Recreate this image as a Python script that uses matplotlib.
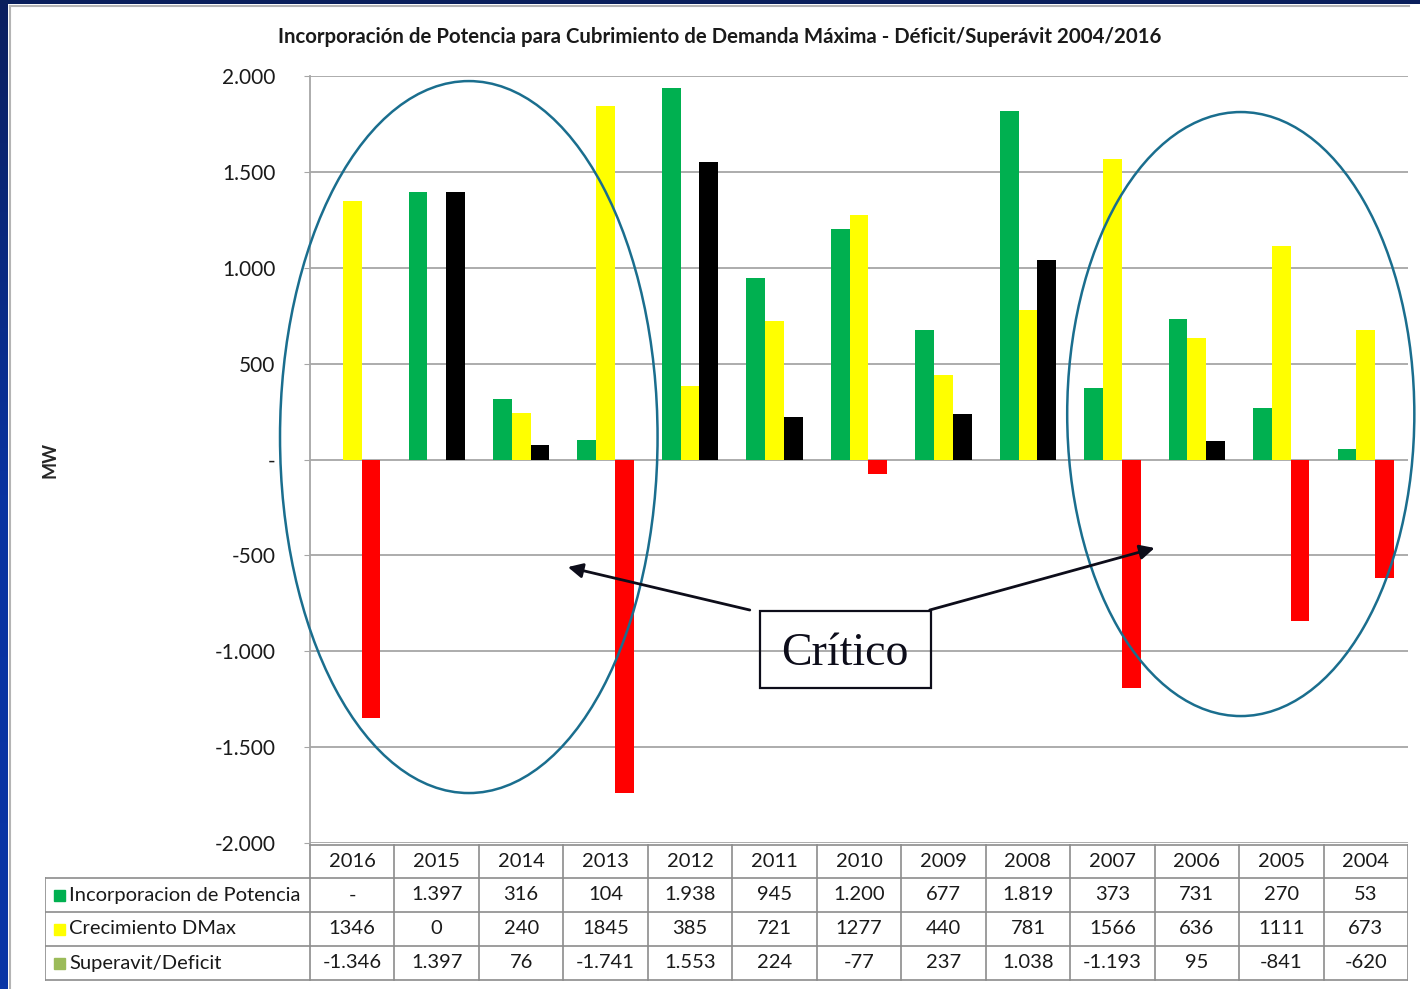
import matplotlib
matplotlib.use('Agg')
import matplotlib.pyplot as plt
import numpy as np
from matplotlib.patches import Ellipse, Rectangle
from matplotlib.lines import Line2D
from matplotlib.colors import LinearSegmentedColormap
from matplotlib.ticker import FuncFormatter

plt.rcParams['font.family'] = ['Lato', 'DejaVu Sans']

years = [2016, 2015, 2014, 2013, 2012, 2011, 2010, 2009, 2008, 2007, 2006, 2005, 2004]
incorporacion = [0, 1397, 316, 104, 1938, 945, 1200, 677, 1819, 373, 731, 270, 53]
crecimiento = [1346, 0, 240, 1845, 385, 721, 1277, 440, 781, 1566, 636, 1111, 673]
superavit = [-1346, 1397, 76, -1741, 1553, 224, -77, 237, 1038, -1193, 95, -841, -620]

series_names = ['Incorporacion de Potencia', 'Crecimiento DMax', 'Superavit/Deficit']
key_colors = ['#00B050', '#FFFF00', '#9BBB59']

title = ('Incorporación de Potencia para Cubrimiento de Demanda Máxima - '
         'Déficit/Superávit 2004/2016')


def miles(v, pos=None):
    # thousands with a dot, zero as a dash
    if v == 0:
        return '-'
    s = f'{abs(int(v)):,}'.replace(',', '.')
    return ('-' if v < 0 else '') + s


W, H = 1420, 989
fig = plt.figure(figsize=(W / 100, H / 100), dpi=100)
fig.patch.set_facecolor('white')

# slide frame: blue strip on the left, navy strip on top
strip = fig.add_axes([0, 0, 8 / W, 1])
grad = np.linspace(0, 1, 256).reshape(-1, 1)
cm = LinearSegmentedColormap.from_list('frame', ['#0A36A6', '#0833A0', '#0B1E5E'])
strip.imshow(grad, aspect='auto', cmap=cm, origin='lower')
strip.axis('off')
top = fig.add_axes([0, 1 - 4 / H, 1, 4 / H])
top.set_facecolor('#0A1F5C')
top.set_xticks([]); top.set_yticks([])
for s in top.spines.values():
    s.set_visible(False)
fig.add_artist(Line2D([10 / W, 10 / W], [0, 1 - 5.5 / H], color='#B4B4B4', lw=1.5,
                      transform=fig.transFigure))
fig.add_artist(Line2D([10 / W, 1409 / W], [1 - 5.5 / H, 1 - 5.5 / H], color='#B4B4B4',
                      lw=1.5, transform=fig.transFigure))

ax = fig.add_axes([310 / W, 1 - 843 / H, 1098 / W, 767 / H])
x = np.arange(len(years))
bw = 0.222
ax.bar(x - bw, incorporacion, bw, color='#00B050', zorder=2)
ax.bar(x, crecimiento, bw, color='#FFFF00', zorder=2)
sup_colors = ['#000000' if v >= 0 else '#FF0000' for v in superavit]
ax.bar(x + bw, superavit, bw, color=sup_colors, zorder=2)

ax.set_xlim(-0.5, len(years) - 0.5)
ax.set_ylim(-2000, 2000)
ax.set_yticks(range(-2000, 2001, 500))
ax.yaxis.set_major_formatter(FuncFormatter(miles))
ax.set_xticks([])
ax.grid(axis='y', color='#A6A6A6', lw=1.3, zorder=0)
ax.set_axisbelow(True)
for side in ['top', 'right', 'bottom']:
    ax.spines[side].set_visible(False)
ax.spines['left'].set_color('#A6A6A6')
ax.spines['left'].set_linewidth(1.3)
ax.tick_params(axis='y', length=4, color='#A6A6A6', pad=21, labelsize=15,
               labelcolor='#1A1A1A')

fig.text(720 / W, 1 - 37 / H, title, ha='center', va='center', fontsize=14.7,
         fontweight='bold', color='#1A1A1A')
fig.text(50 / W, 1 - 460 / H, 'MW', rotation=90, ha='center', va='center',
         fontsize=13, fontweight='bold', color='#262626')

# circled critical zones
ax.add_patch(Ellipse((1.38, 117), 4.47, 3713, fill=False, ec='#1A6E8E', lw=1.8,
                     clip_on=False, zorder=4))
ax.add_patch(Ellipse((10.52, 237), 4.11, 3150, fill=False, ec='#1A6E8E', lw=1.8,
                     clip_on=False, zorder=4))

ax.add_patch(Rectangle((4.825, -1192), 2.024, 402, fill=False, ec='#0D0D1A', lw=1.6,
                       zorder=5))
ax.text(5.837, -1072, 'Crítico', fontsize=33, family='Liberation Serif',
        ha='center', va='baseline', color='#0D0D1A', zorder=5)
arrow = dict(arrowstyle='-|>', color='#0D0D1A', lw=2, mutation_scale=22,
             shrinkA=0, shrinkB=0)
ax.annotate('', xy=(2.553, -561), xytext=(4.707, -785), arrowprops=arrow, zorder=5)
ax.annotate('', xy=(9.5, -461.5), xytext=(6.837, -785), arrowprops=arrow, zorder=5)

# data table under the chart, columns aligned with the bar groups
row_text = [
    [miles(v) for v in incorporacion],
    [str(v) for v in crecimiento],
    [miles(v) for v in superavit],
]
col_w = 1098 / len(years)
lab_left = -0.5 - 265 / col_w
tax = fig.add_axes([45 / W, 1 - 981 / H, 1363 / W, 138 / H])
tax.set_xlim(lab_left, len(years) - 0.5)
tax.set_ylim(981, 843)
tax.axis('off')
edge = dict(color='#8C8C8C', lw=1.2)
row_y = [845, 878, 912, 946, 980]
tax.plot([-0.5, len(years) - 0.5], [row_y[0]] * 2, **edge)
for yy in row_y[1:]:
    tax.plot([lab_left, len(years) - 0.5], [yy, yy], **edge)
tax.plot([lab_left, lab_left], [row_y[1], row_y[-1]], **edge)
for k in range(len(years) + 1):
    tax.plot([k - 0.5, k - 0.5], [row_y[0], row_y[-1]], **edge)

cell_font = dict(fontsize=14.5, color='#1A1A1A', va='center')
hy = (row_y[0] + row_y[1]) / 2
for xi, yr in zip(x, years):
    tax.text(xi, hy, str(yr), ha='center', **cell_font)
for i, (name, vals, kc) in enumerate(zip(series_names, row_text, key_colors)):
    cy = (row_y[i + 1] + row_y[i + 2]) / 2
    tax.add_patch(Rectangle((lab_left + 9 / col_w, cy - 5.5), 11 / col_w, 11,
                            color=kc))
    tax.text(lab_left + 24 / col_w, cy, name, ha='left', **cell_font)
    for xi, v in zip(x, vals):
        tax.text(xi, cy, v, ha='center', **cell_font)

fig.savefig('out.png', dpi=100, facecolor='white')
